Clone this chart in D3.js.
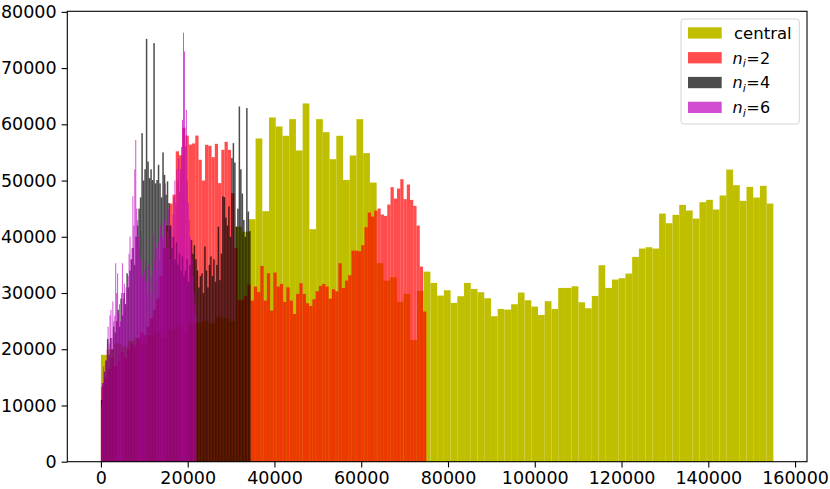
<!DOCTYPE html>
<html>
<head>
<meta charset="utf-8">
<script src="https://cdn.jsdelivr.net/npm/d3@7"></script>
<style>
  body { margin: 0; background: #fff; }
  text { font-family: "DejaVu Sans", sans-serif; }
</style>
</head>
<body>
<script>
const width = 830,
      height = 489;

// histogram counts, 100 bins each
const centralRange = 155000;
const centralCounts = [
  19000, 20000, 21000, 20500, 21500, 22000, 21000, 22500, 23000, 22000,
  23500, 24000, 23000, 24500, 24700, 25000, 24600, 25800, 25500, 25000,
  41800, 40900, 43130, 57480, 44550, 61220, 59620, 57960, 60920, 55350,
  63710, 41350, 60920, 58600, 53800, 57960, 50120, 54460, 60920, 54870,
  49650, 35300, 32210, 32800, 28420, 29840, 21650, 30370, 33800, 31800,
  29540, 30490, 28240, 29430, 31800, 30730, 30140, 29070, 25870, 27170,
  27050, 28000, 30080, 28710, 27590, 26100, 28540, 27170, 30910, 30910,
  31200, 28360, 27290, 29480, 34940, 30910, 32390, 32630, 33460, 36420,
  37910, 38140, 37910, 44130, 42410, 43900, 45680, 44670, 43240, 46150,
  46570, 44850, 47340, 51960, 49180, 46390, 48880, 46980, 49060, 45910
];

const n2Range = 75000;
const n2Counts = [
  13350, 15000, 16500, 18400, 17000, 18000, 19500, 18500, 20000, 21000,
  20500, 22000, 23000, 22500, 24000, 25500, 27000, 29000, 33000, 38000,
  42000, 45900, 47500, 55200, 54500, 59400, 58000, 56400, 56600, 58000,
  53700, 50000, 56350, 56180, 54160, 56530, 49540, 55460, 56890, 55460,
  47760, 38000, 28800, 28800, 29500, 31500, 28650, 31140, 30190, 34820,
  28650, 33520, 26870, 33640, 31140, 31620, 28420, 31020, 28650, 26280,
  29840, 31740, 29840, 28180, 27700, 28890, 30310, 31260, 31620, 31140,
  29000, 30670, 30310, 35300, 30910, 32210, 33160, 37540, 37540, 37430,
  38500, 41700, 44310, 43600, 44660, 45020, 43950, 43720, 45730, 48820,
  46800, 48580, 50240, 46690, 49290, 46560, 45500, 42000, 34700, 26700
];

const n4Range = 34500;
const n4Counts = [
  11000, 14000, 16000, 18000, 21800, 19000, 22000, 20000, 24000, 23000,
  25000, 27000, 24000, 29000, 26000, 30000, 28000, 33500, 31000, 34000,
  36000, 38000, 35000, 40000, 42000, 45000, 47000, 58430, 50000, 52000,
  75200, 53380, 50430, 52000, 50100, 74440, 49500, 50100, 52800, 49500,
  47000, 55000, 51000, 47470, 49850, 46000, 42000, 38000, 40000, 36000,
  39000, 35000, 37000, 34000, 36500, 33000, 34000, 36000, 32000, 35000,
  39400, 37000, 38500, 36000, 34000, 31000, 33000, 33500, 30000, 38250,
  34000, 31000, 35000, 36500, 33000, 36000, 32000, 35000, 41800, 32300,
  37000, 47200, 47040, 43400, 42000, 45400, 40000, 54000, 56650, 53210,
  41800, 45000, 63170, 52000, 47700, 43000, 40000, 62890, 44490, 41000
];

const n6Range = 22000;
const n6Counts = [
  9800, 14000, 16900, 15800, 17200, 18000, 20000, 24000, 21000, 26000,
  27000, 22000, 28500, 25000, 26000, 35300, 30000, 33500, 26400, 28000,
  25000, 30000, 35300, 29000, 31700, 28000, 31000, 30000, 33000, 37000,
  40000, 36000, 38000, 47200, 42000, 52000, 57200, 45000, 43000, 40000,
  38300, 36000, 41000, 33000, 35000, 34000, 36000, 32000, 30000, 35000,
  32300, 30000, 33000, 29000, 34000, 40500, 36000, 35000, 38000, 33500,
  39000, 36000, 42000, 45300, 40000, 39400, 43000, 49500, 38000, 41000,
  45000, 38000, 36000, 42000, 40000, 44000, 47000, 50000, 46000, 52000,
  50000, 54000, 48000, 52000, 56000, 60800, 76300, 72960, 56050, 62580,
  50000, 46000, 43000, 40000, 39400, 36000, 33000, 30000, 28000, 26300
];

const seriesNames = ["central", "2", "4", "6"];
const seriesColors = ["#bfbf00", "#ff0000", "#000000", "#bf00bf"];
const seriesAlpha = [1, 0.7, 0.7, 0.7];

const xTicks = [0, 20000, 40000, 60000, 80000, 100000, 120000, 140000, 160000];
const yTicks = [0, 10000, 20000, 30000, 40000, 50000, 60000, 70000, 80000];

const x = d3.scaleLinear()
    .domain([-7750, 162750])
    .range([67.3, 807]);

const y = d3.scaleLinear()
    .domain([0, 80100])
    .range([461.7, 11.3]);

const svg = d3.select("body")
    .append("svg")
    .attr("width", width)
    .attr("height", height);

const series = [
  { counts: centralCounts, range: centralRange },
  { counts: n2Counts, range: n2Range },
  { counts: n4Counts, range: n4Range },
  { counts: n6Counts, range: n6Range }
].map((s, i) => {
  const step = s.range / s.counts.length;
  return {
    color: seriesColors[i],
    alpha: seriesAlpha[i],
    bins: s.counts.map((c, k) => ({ x0: k * step, x1: (k + 1) * step, c: c }))
  };
});

const bars = svg.append("g");

series.forEach(s => {
  bars.append("g")
      .attr("fill", s.color)
      .attr("fill-opacity", s.alpha)
    .selectAll("rect")
    .data(s.bins)
    .enter().append("rect")
      .attr("x", d => x(d.x0))
      .attr("width", d => x(d.x1) - x(d.x0))
      .attr("y", d => y(d.c))
      .attr("height", d => y(0) - y(d.c));
});

// axes
const xAxis = svg.append("g")
    .attr("transform", `translate(0,${y.range()[0]})`)
    .call(d3.axisBottom(x)
      .tickValues(xTicks)
      .tickSize(5.7)
      .tickPadding(4)
      .tickFormat(d3.format("d")));

const yAxis = svg.append("g")
    .attr("transform", `translate(${x.range()[0]},0)`)
    .call(d3.axisLeft(y)
      .tickValues(yTicks)
      .tickSize(5.7)
      .tickPadding(5)
      .tickFormat(d3.format("d")));

[xAxis, yAxis].forEach(a => {
  a.select(".domain").remove();
  a.selectAll(".tick line").attr("stroke", "#000").attr("stroke-width", 1.1);
  a.selectAll(".tick text")
      .attr("fill", "#000")
      .style("font-size", "17.5px")
      .style("font-family", "'DejaVu Sans', sans-serif");
});

// frame
svg.append("rect")
    .attr("x", x.range()[0])
    .attr("y", y.range()[1])
    .attr("width", x.range()[1] - x.range()[0])
    .attr("height", y.range()[0] - y.range()[1])
    .attr("fill", "none")
    .attr("stroke", "#000")
    .attr("stroke-width", 1.1);

// legend
const legend = svg.append("g");

legend.append("rect")
    .attr("x", 681)
    .attr("y", 19)
    .attr("width", 118.3)
    .attr("height", 105)
    .attr("rx", 3)
    .attr("fill", "#fff")
    .attr("fill-opacity", 0.8)
    .attr("stroke", "#d5d5d5")
    .attr("stroke-width", 1);

const rows = legend.selectAll("g.row")
    .data(seriesNames)
    .enter().append("g")
    .attr("class", "row")
    .attr("transform", (d, i) => `translate(0,${27.3 + i * 24.8})`);

rows.append("rect")
    .attr("x", 688)
    .attr("width", 33.7)
    .attr("height", 11.3)
    .attr("fill", (d, i) => seriesColors[i])
    .attr("fill-opacity", (d, i) => seriesAlpha[i]);

rows.each(function(d, i) {
  const t = d3.select(this).append("text")
      .attr("y", 5.7)
      .attr("dy", "0.36em")
      .attr("fill", "#000")
      .style("font-size", "16px");
  if (i === 0) {
    t.attr("x", 734).style("font-size", "16.5px").text(d);
  } else {
    t.append("tspan").attr("x", 732.5).style("font-style", "italic").text("n");
    t.append("tspan").attr("x", 742.8).attr("dy", 3.5)
        .style("font-style", "italic").style("font-size", "11px").text("i");
    t.append("tspan").attr("x", 746.3).attr("dy", -3.5).text("=");
    t.append("tspan").attr("x", 760).text(d);
  }
});
</script>
</body>
</html>
